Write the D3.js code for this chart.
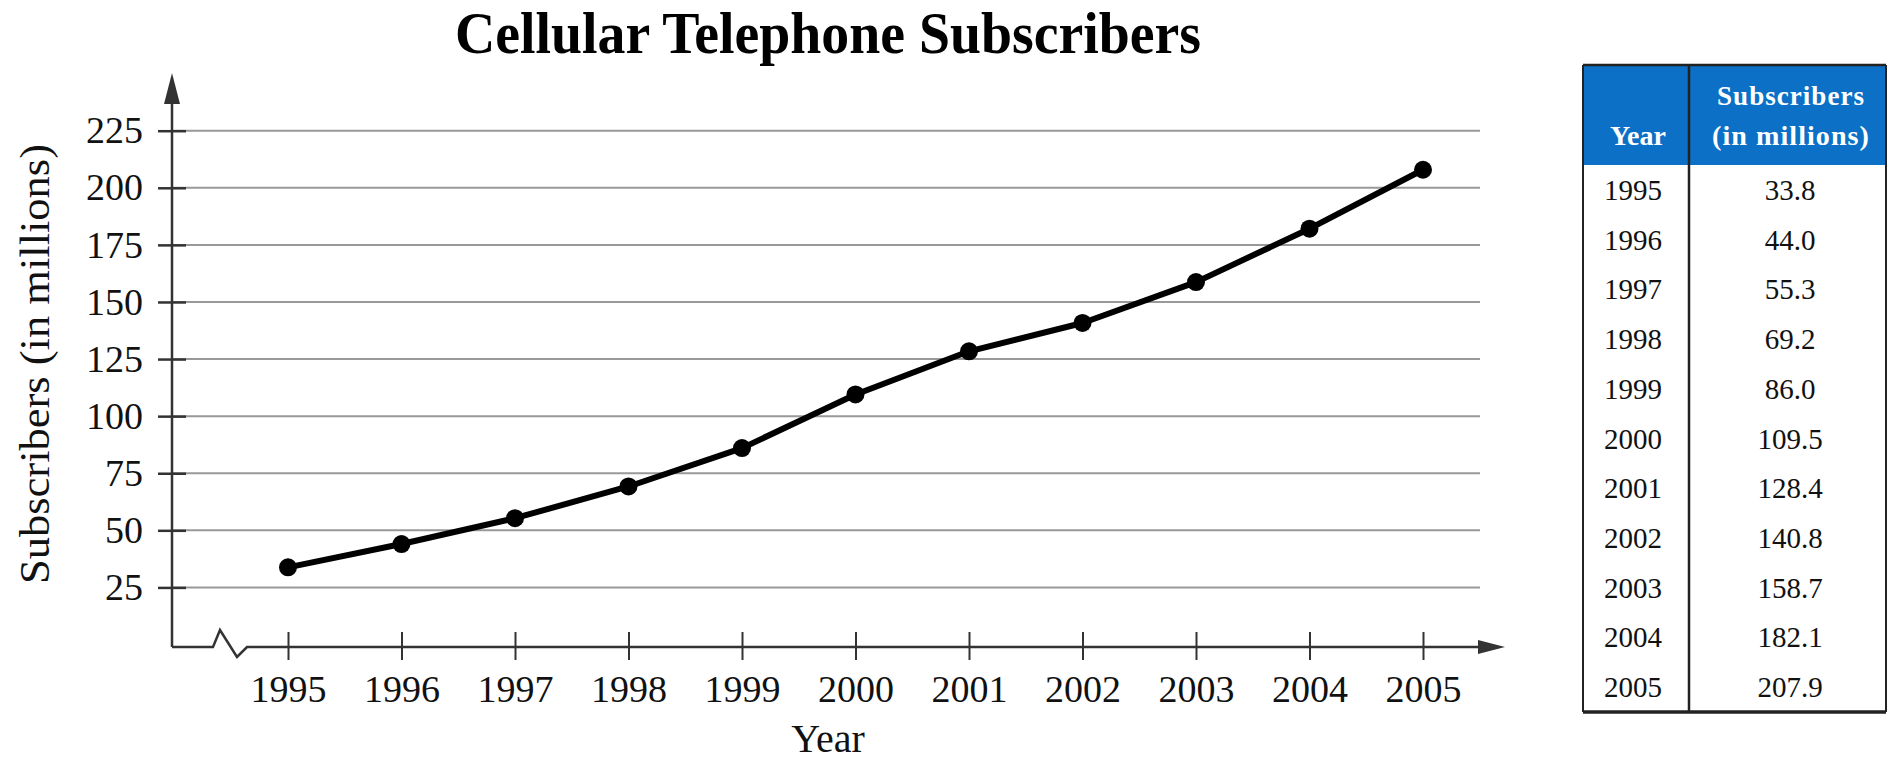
<!DOCTYPE html>
<html>
<head>
<meta charset="utf-8">
<script src="https://cdn.jsdelivr.net/npm/d3@7"></script>
<style>
  body { margin: 0; background: #fff; }
  svg { display: block; }
  text { font-family: "Liberation Serif", "Times New Roman", serif; }
</style>
</head>
<body>
<svg id="chart" width="1889" height="763"></svg>
<script>
// Cellular telephone subscribers, 1995–2005 (millions)
const years = [1995, 1996, 1997, 1998, 1999, 2000, 2001, 2002, 2003, 2004, 2005];
const subscribers = [33.8, 44.0, 55.3, 69.2, 86.0, 109.5, 128.4, 140.8, 158.7, 182.1, 207.9];
const yTicks = [25, 50, 75, 100, 125, 150, 175, 200, 225];
const chartTitle = "Cellular Telephone Subscribers";
const xTitle = "Year";
const yTitle = "Subscribers (in millions)";
const headYear = "Year";
const headValue = ["Subscribers", "(in millions)"];

const data = years.map((yr, i) => ({ year: yr, value: subscribers[i] }));

const svg = d3.select("#chart");
const ink = "#111";

// Scales
const x = d3.scaleLinear().domain([1995, 2005]).range([288, 1423]);
const y = d3.scaleLinear().domain([0, 225]).range([644.5, 130.7]);

const axisX0 = 172;   // vertical axis position
const axisY0 = 647;   // horizontal axis position
const gridRight = 1480;

// Title
svg.append("text")
  .attr("x", 828).attr("y", 53)
  .attr("text-anchor", "middle")
  .attr("font-size", 60).attr("font-weight", "bold")
  .attr("textLength", 746).attr("lengthAdjust", "spacingAndGlyphs")
  .attr("fill", "#000")
  .text(chartTitle);

// Horizontal gridlines
svg.append("g").selectAll("line").data(yTicks).join("line")
  .attr("x1", axisX0).attr("x2", gridRight)
  .attr("y1", d => y(d)).attr("y2", d => y(d))
  .attr("stroke", "#999").attr("stroke-width", 2);

// Y axis ticks and labels
const gy = svg.append("g")
  .attr("transform", `translate(186,0)`)
  .call(d3.axisLeft(y).tickValues(yTicks).tickSize(28).tickPadding(15).tickFormat(d3.format("d")));
gy.select(".domain").remove();
gy.selectAll(".tick line").attr("stroke", "#333").attr("stroke-width", 2.5);
gy.selectAll(".tick text")
  .attr("font-family", "Liberation Serif, Times New Roman, serif")
  .attr("font-size", 38).attr("fill", ink);

// X axis ticks and labels
const gx = svg.append("g")
  .attr("transform", `translate(0,632)`)
  .call(d3.axisBottom(x).tickValues(years).tickSize(28).tickPadding(15).tickFormat(d3.format("d")));
gx.select(".domain").remove();
gx.selectAll(".tick line").attr("stroke", "#333").attr("stroke-width", 2);
gx.selectAll(".tick text")
  .attr("font-family", "Liberation Serif, Times New Roman, serif")
  .attr("font-size", 38).attr("fill", ink);

// Axis lines with arrowheads and a break mark on the horizontal axis
svg.append("path")
  .attr("d", `M${axisX0},${axisY0} L${axisX0},95`)
  .attr("stroke", "#333").attr("stroke-width", 2.5).attr("fill", "none");
svg.append("path")
  .attr("d", `M${axisX0 - 8},104 L${axisX0},73 L${axisX0 + 8},104 Z`)
  .attr("fill", "#333");
svg.append("path")
  .attr("d", `M${axisX0},${axisY0} L213,${axisY0} L220,630 L237,657 L247,${axisY0} L1485,${axisY0}`)
  .attr("stroke", "#333").attr("stroke-width", 2.5).attr("fill", "none")
  .attr("stroke-linejoin", "miter");
svg.append("path")
  .attr("d", `M1478,${axisY0 - 7} L1505,${axisY0} L1478,${axisY0 + 7} Z`)
  .attr("fill", "#333");

// Axis titles
svg.append("text")
  .attr("x", 828).attr("y", 752)
  .attr("text-anchor", "middle")
  .attr("font-size", 40).attr("fill", ink)
  .text(xTitle);

svg.append("text")
  .attr("transform", "translate(49,364) rotate(-90)")
  .attr("text-anchor", "middle")
  .attr("font-size", 43).attr("fill", ink)
  .attr("textLength", 440).attr("lengthAdjust", "spacingAndGlyphs")
  .text(yTitle);

// Data line and points
const line = d3.line().x(d => x(d.year)).y(d => y(d.value));
svg.append("path")
  .datum(data)
  .attr("d", line)
  .attr("fill", "none").attr("stroke", "#000")
  .attr("stroke-width", 6).attr("stroke-linejoin", "round").attr("stroke-linecap", "round");
svg.append("g").selectAll("circle").data(data).join("circle")
  .attr("cx", d => x(d.year)).attr("cy", d => y(d.value))
  .attr("r", 9).attr("fill", "#000");

// Data table
const tLeft = 1583, tDiv = 1689, tRight = 1886, tTop = 65, tHead = 165, tBottom = 712;
const rowY = d3.scaleBand().domain(years).range([tHead, tBottom]);
const table = svg.append("g");

table.append("rect")
  .attr("x", tLeft).attr("y", tTop)
  .attr("width", tRight - tLeft).attr("height", tHead - tTop)
  .attr("fill", "#0b70c6");

table.append("text")
  .attr("x", 1638).attr("y", 145)
  .attr("text-anchor", "middle")
  .attr("font-size", 28).attr("font-weight", "bold").attr("fill", "#fff")
  .text(headYear);
table.selectAll("text.hv").data(headValue).join("text")
  .attr("class", "hv")
  .attr("x", 1791).attr("y", (d, i) => 105 + i * 40)
  .attr("text-anchor", "middle")
  .attr("font-size", 27).attr("font-weight", "bold").attr("fill", "#fff")
  .attr("textLength", (d, i) => i === 0 ? 148 : 158)
  .attr("lengthAdjust", "spacingAndGlyphs")
  .attr("letter-spacing", 1)
  .text(d => d);

table.selectAll("text.yr").data(data).join("text")
  .attr("class", "yr")
  .attr("x", 1633).attr("y", d => rowY(d.year) + rowY.bandwidth() / 2 + 10)
  .attr("text-anchor", "middle")
  .attr("font-size", 29).attr("fill", ink)
  .text(d => d.year);
table.selectAll("text.val").data(data).join("text")
  .attr("class", "val")
  .attr("x", 1790).attr("y", d => rowY(d.year) + rowY.bandwidth() / 2 + 10)
  .attr("text-anchor", "middle")
  .attr("font-size", 29).attr("fill", ink)
  .text(d => d.value.toFixed(1));

// Table borders
const border = [
  [tLeft, tTop, tRight, tTop, 2.5],
  [tLeft, tTop, tLeft, tBottom, 2],
  [tRight, tTop, tRight, tBottom, 2],
  [tDiv, tTop, tDiv, tBottom, 2.5],
  [tLeft, tBottom, tRight, tBottom, 3.5]
];
table.selectAll("line").data(border).join("line")
  .attr("x1", d => d[0]).attr("y1", d => d[1])
  .attr("x2", d => d[2]).attr("y2", d => d[3])
  .attr("stroke", "#222").attr("stroke-width", d => d[4]);
</script>
</body>
</html>
